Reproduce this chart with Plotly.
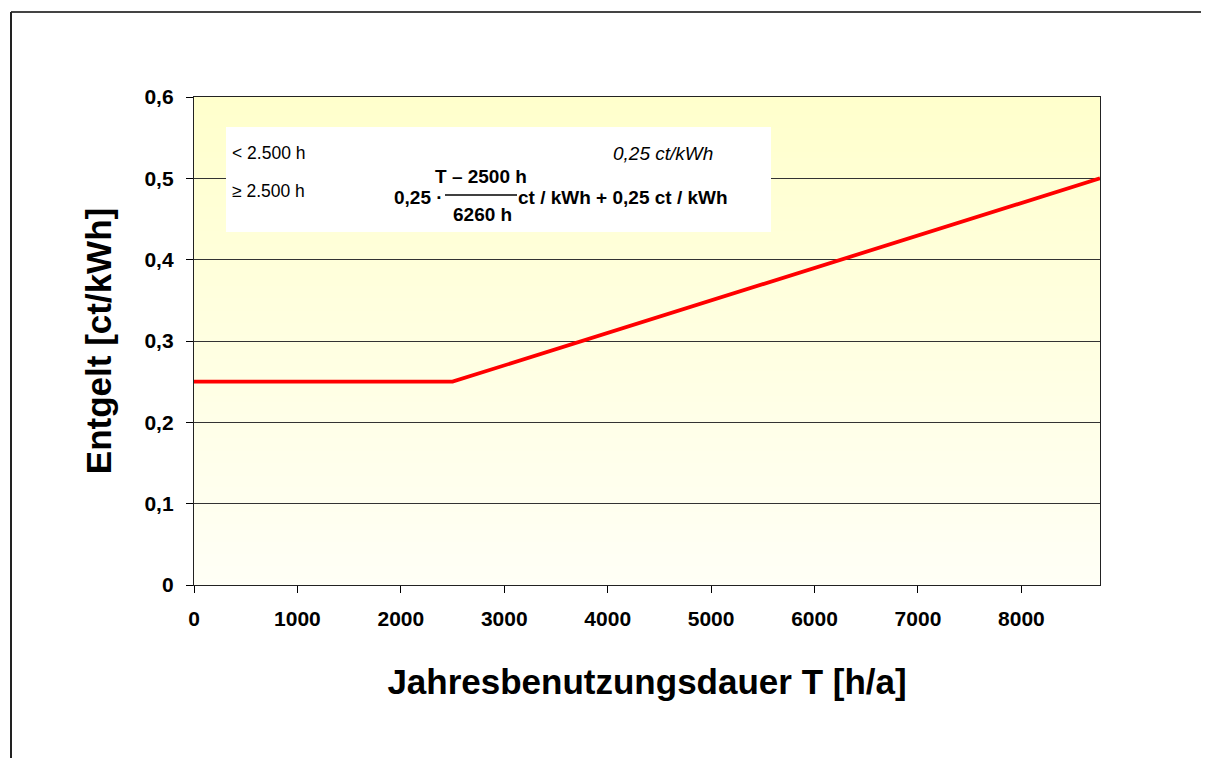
import plotly.graph_objects as go

# ---- data ----
T_hours = [0, 2500, 8760]
entgelt = [0.25, 0.25, 0.5]
x_ticks = [0, 1000, 2000, 3000, 4000, 5000, 6000, 7000, 8000]
y_ticks = [0, 0.1, 0.2, 0.3, 0.4, 0.5, 0.6]
y_tick_labels = ["0", "0,1", "0,2", "0,3", "0,4", "0,5", "0,6"]

# page is rendered with an 8px body margin; compensate so that the plot area
# lands at page pixels x 194..1100, y 97..585
OFF = 8
W, H = 1209 - OFF, 758 - OFF
L, TOP = 194 - OFF, 97 - OFF
PW, PH = 1100 - 194, 585 - 97
R, B = W - L - PW, H - TOP - PH

def px(x):  # page pixel -> paper x
    return (x - 194) / PW

def py(y):  # page pixel -> paper y
    return (585 - y) / PH

FONT = "Liberation Sans, Arial, sans-serif"

fig = go.Figure()
fig.add_trace(go.Scatter(
    x=T_hours, y=entgelt, mode="lines",
    line=dict(color="#FF0000", width=3.8),
    showlegend=False, hoverinfo="skip",
))

shapes = []
# vertical gradient background (pale yellow at top to near white at bottom)
n = 80
top_c = (255, 255, 204)
bot_c = (255, 255, 246)
for i in range(n):
    t = (i + 0.5) / n
    c = tuple(round(bot_c[k] + (top_c[k] - bot_c[k]) * t) for k in range(3))
    shapes.append(dict(type="rect", xref="x domain", yref="y domain",
                       x0=0, x1=1, y0=i / n, y1=(i + 1) / n + 0.002,
                       fillcolor="rgb(%d,%d,%d)" % c, line=dict(width=0), layer="below"))
# white formula box
shapes.append(dict(type="rect", xref="paper", yref="paper",
                   x0=px(226), x1=px(771), y0=py(232), y1=py(127),
                   fillcolor="white", line=dict(width=0), layer="above"))
# fraction bar
shapes.append(dict(type="line", xref="paper", yref="paper",
                   x0=px(445), x1=px(517), y0=py(195), y1=py(195),
                   line=dict(color="black", width=1.3), layer="above"))
# outer chart frame (top and left edges)
shapes.append(dict(type="line", xref="paper", yref="paper",
                   x0=px(11), x1=px(1215), y0=py(12), y1=py(12),
                   line=dict(color="#444444", width=2)))
shapes.append(dict(type="line", xref="paper", yref="paper",
                   x0=px(11), x1=px(11), y0=py(12), y1=py(770),
                   line=dict(color="#222222", width=2)))

ann = []
def a(text, x, y, xanchor="left", size=17, bold=False, italic=False):
    ann.append(dict(text=text, x=px(x), y=py(y), xref="paper", yref="paper",
                    xanchor=xanchor, yanchor="middle", showarrow=False,
                    font=dict(family=FONT, size=size, color="black",
                              weight="bold" if bold else "normal",
                              style="italic" if italic else "normal")))

a("&lt; 2.500 h", 230, 153, size=17.5)
a("≥ 2.500 h", 230, 191, size=17.5)
a("0,25 ct/kWh", 611, 153, size=19, italic=True)
a("0,25 ·", 392, 197, size=19, bold=True)
a("T – 2500 h", 481, 176, xanchor="center", size=19, bold=True)
a("6260 h", 482, 214, xanchor="center", size=19, bold=True)
a("ct / kWh&nbsp;+&nbsp;0,25 ct / kWh", 516, 197, size=19, bold=True)

fig.update_layout(
    width=W, height=H,
    margin=dict(l=L, r=R, t=TOP, b=B, pad=0),
    paper_bgcolor="white", plot_bgcolor="rgba(0,0,0,0)",
    font=dict(family=FONT, color="black"),
    shapes=shapes, annotations=ann,
    showlegend=False,
)
fig.update_xaxes(
    range=[0, 8760], tickvals=x_ticks, ticks="outside", ticklen=7, tickcolor="black",
    tickfont=dict(family=FONT, size=21, weight="bold"), ticklabelstandoff=8,
    showline=True, linecolor="#222222", linewidth=1.3, mirror=True,
    showgrid=False, zeroline=False,
    title=dict(text="Jahresbenutzungsdauer T [h/a]", standoff=40,
               font=dict(family=FONT, size=35, weight="bold")),
)
fig.update_yaxes(
    range=[0, 0.6], tickvals=y_ticks, ticktext=y_tick_labels,
    ticksuffix="\u00a0", ticks="outside", ticklen=7, tickcolor="black",
    tickfont=dict(family=FONT, size=21, weight="bold"), ticklabelstandoff=8,
    showline=True, linecolor="#222222", linewidth=1.3, mirror=True,
    showgrid=True, gridcolor="#333333", gridwidth=1, zeroline=False,
    title=dict(text="Entgelt [ct/kWh]", standoff=22,
               font=dict(family=FONT, size=35, weight="bold")),
)

fig.write_html("out.html")
